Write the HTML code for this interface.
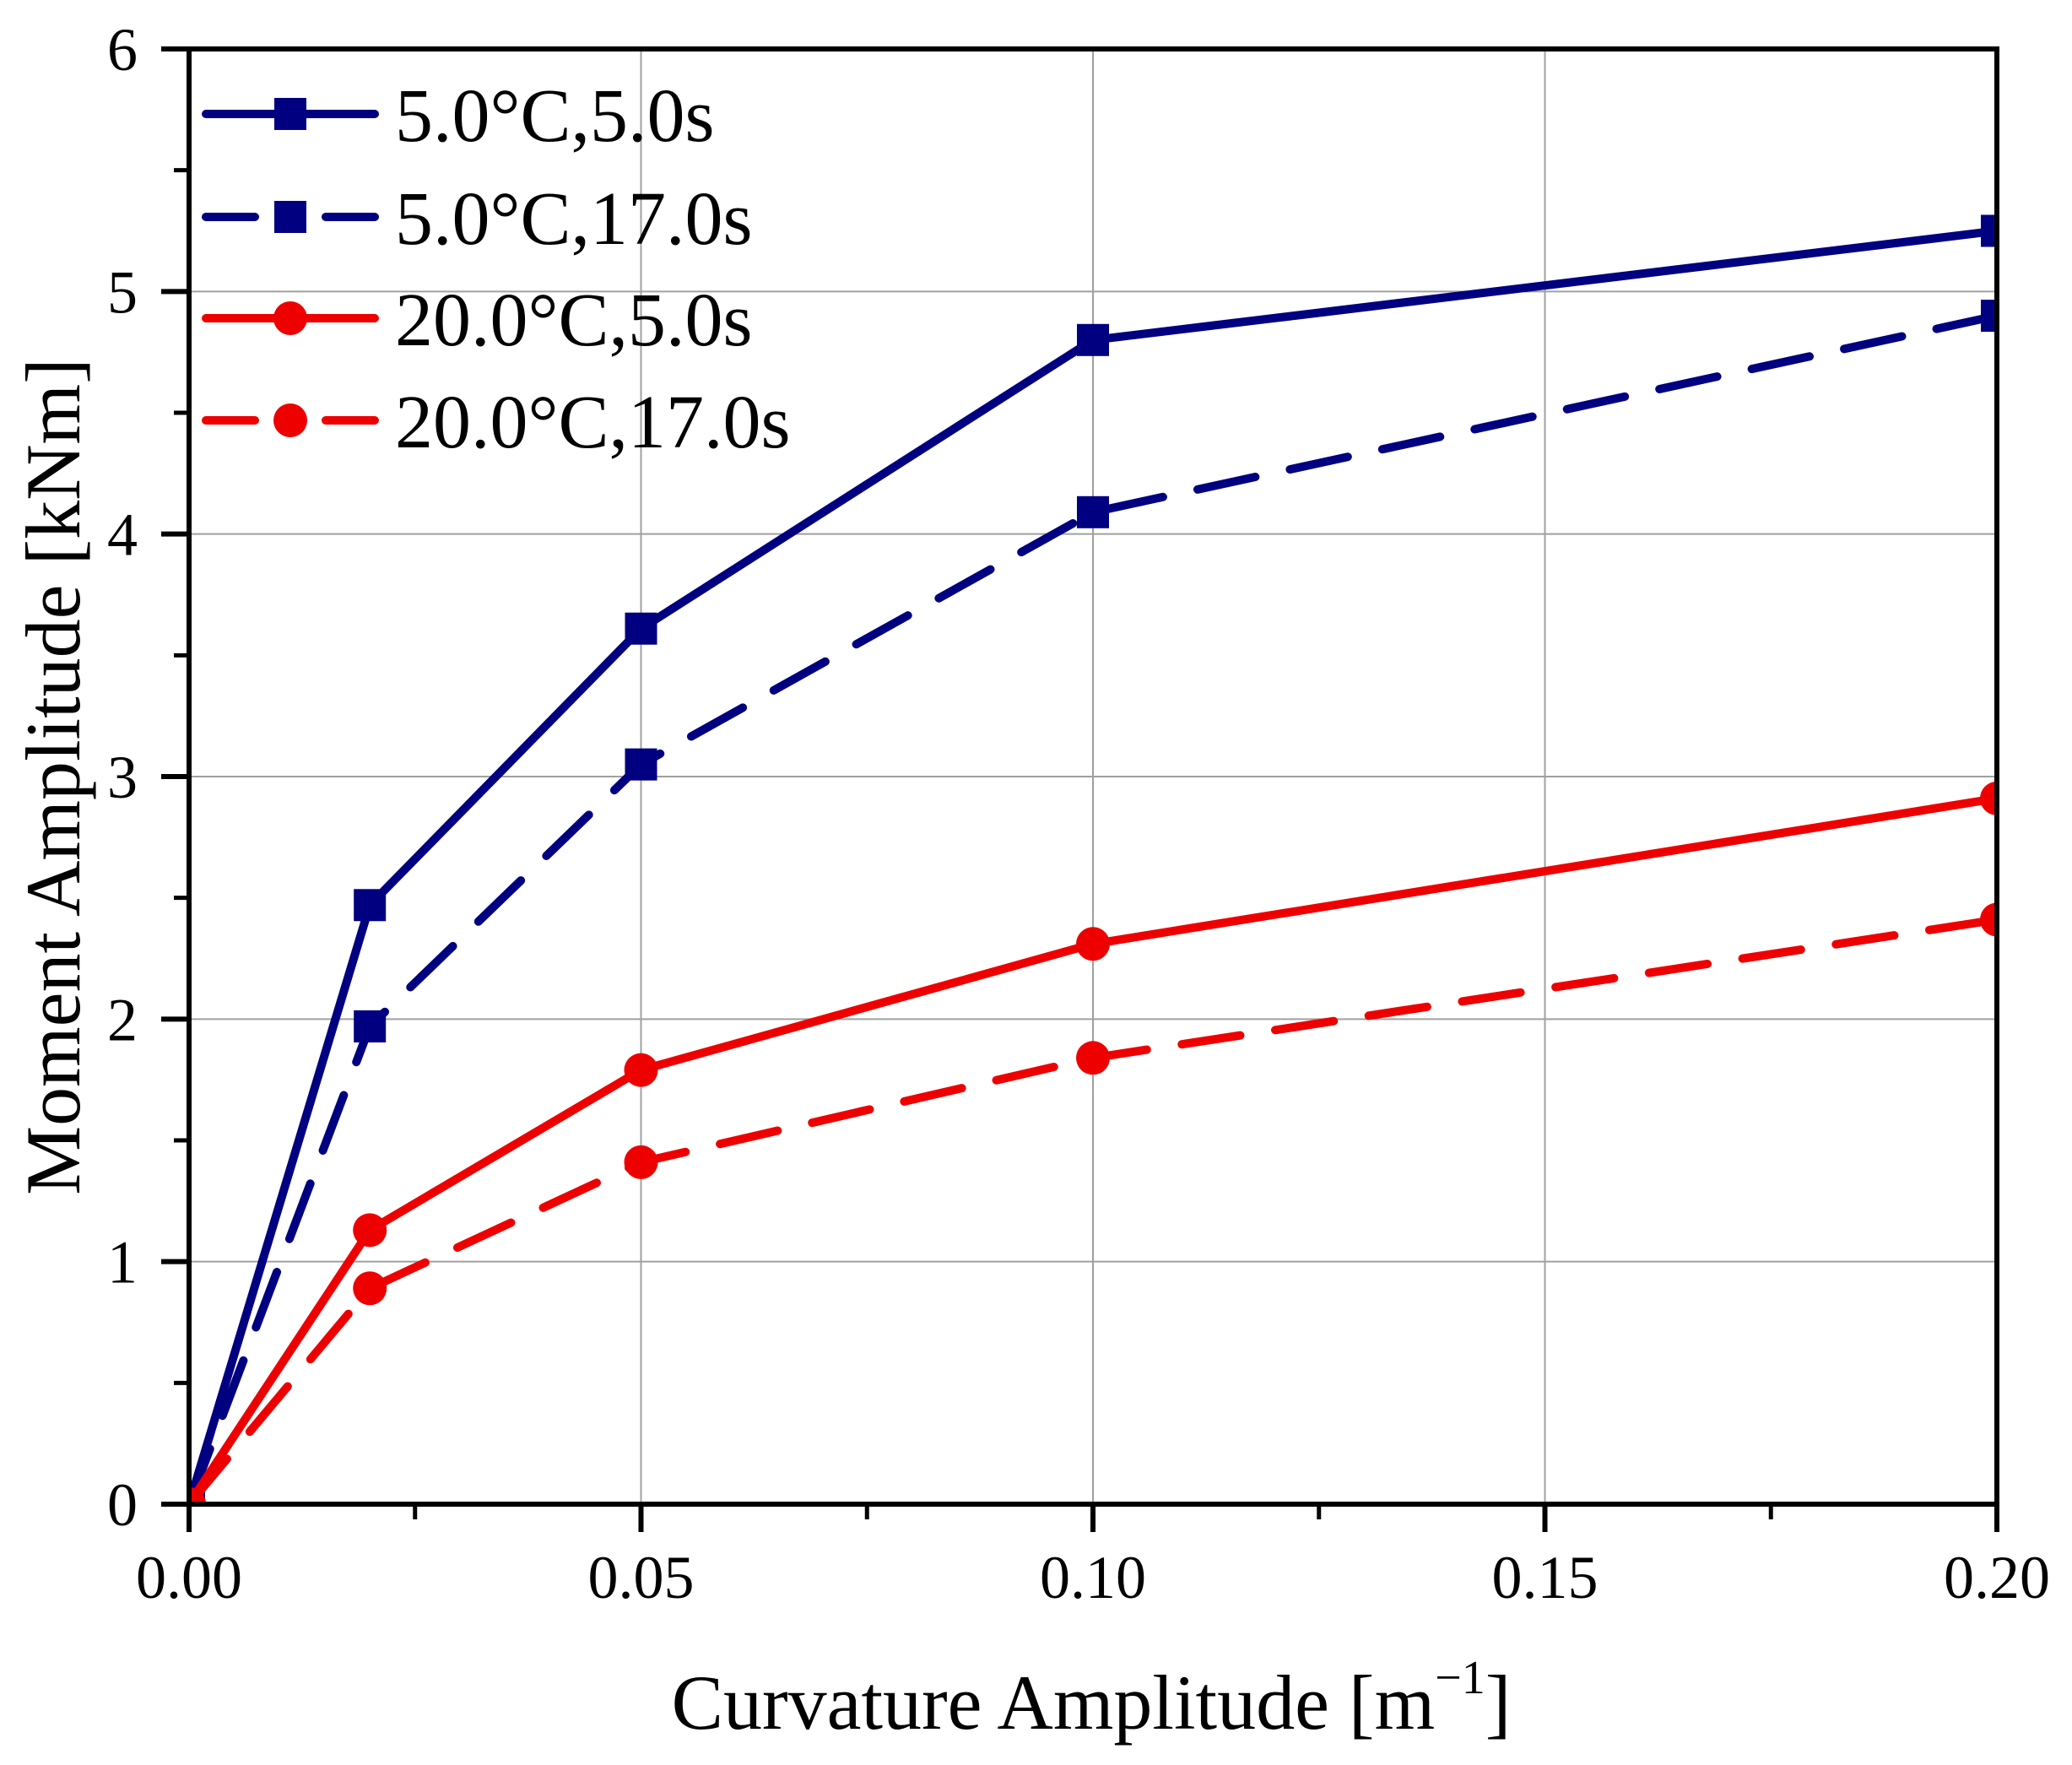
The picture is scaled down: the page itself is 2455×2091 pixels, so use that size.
<!DOCTYPE html>
<html><head><meta charset="utf-8"><style>
html,body{margin:0;padding:0;background:#fff;}
svg{display:block;font-family:"Liberation Serif",serif;}
</style></head><body>
<svg id="chart" width="2455" height="2091" viewBox="0 0 2455 2091" xmlns="http://www.w3.org/2000/svg">
<defs><clipPath id="plotclip"><rect x="224" y="58" width="2142" height="1724"/></clipPath></defs>
<g id="grid"></g>
<g id="series" clip-path="url(#plotclip)"></g>
<g id="axes"></g>
<text x="1293" y="2048" font-size="92" text-anchor="middle">Curvature Amplitude [m<tspan font-size="56" dy="-42">−1</tspan><tspan dy="42">]</tspan></text>
<text transform="translate(94,920) rotate(-90)" font-size="92" text-anchor="middle">Moment Amplitude [kNm]</text>
<g id="legend"></g>
</svg>
<script>
const xValues = [0, 0.02, 0.05, 0.10, 0.20];
const blueSolid = [0, 2.47, 3.61, 4.80, 5.25];
const blueDashed = [0, 1.97, 3.05, 4.09, 4.90];
const redSolid = [0, 1.13, 1.79, 2.31, 2.91];
const redDashed = [0, 0.89, 1.41, 1.84, 2.41];
const seriesNames = ["5.0°C,5.0s", "5.0°C,17.0s", "20.0°C,5.0s", "20.0°C,17.0s"];
const xTicks = [0, 0.05, 0.10, 0.15, 0.20];
const xTickLabels = ["0.00", "0.05", "0.10", "0.15", "0.20"];
const yTicks = [0, 1, 2, 3, 4, 5, 6];
const yTickLabels = ["0", "1", "2", "3", "4", "5", "6"];

const L = 224, R = 2366, T = 58, B = 1782;
const xMax = 0.20, yMax = 6;
const sx = v => L + (v / xMax) * (R - L);
const sy = v => B - (v / yMax) * (B - T);
const NS = "http://www.w3.org/2000/svg";
function mk(tag, attrs, parent) {
  const e = document.createElementNS(NS, tag);
  for (const k in attrs) e.setAttribute(k, attrs[k]);
  parent.appendChild(e);
  return e;
}
const grid = document.getElementById('grid');
const axes = document.getElementById('axes');
const seriesG = document.getElementById('series');
const legend = document.getElementById('legend');

xTicks.forEach((t, i) => {
  if (t > 0 && t < xMax) {
    const g = mk('line', {x1: sx(t), x2: sx(t), y1: T, y2: B, stroke: '#a0a0a0', 'stroke-width': 2}, grid);
    
    
  }
  const tk = mk('line', {x1: sx(t), x2: sx(t), y1: B, y2: B + 33, stroke: '#000', 'stroke-width': 6}, axes);
  
  
  const lb = mk('text', {x: sx(t), y: 1893, 'font-size': 72, 'text-anchor': 'middle'}, axes);
  lb.textContent = xTickLabels[i];
  
  
  if (i < xTicks.length - 1) {
    const mv = (t + xTicks[i + 1]) / 2;
    const m = mk('line', {x1: sx(mv), x2: sx(mv), y1: B, y2: B + 18, stroke: '#000', 'stroke-width': 5}, axes);
    
    
  }
});
yTicks.forEach((t, i) => {
  if (t > 0 && t < yMax) {
    const g = mk('line', {x1: L, x2: R, y1: sy(t), y2: sy(t), stroke: '#a0a0a0', 'stroke-width': 2}, grid);
    
    
  }
  const tk = mk('line', {x1: L - 33, x2: L, y1: sy(t), y2: sy(t), stroke: '#000', 'stroke-width': 6}, axes);
  
  
  const lb = mk('text', {x: 163, y: sy(t) + 25, 'font-size': 72, 'text-anchor': 'end'}, axes);
  lb.textContent = yTickLabels[i];
  
  
  if (i < yTicks.length - 1) {
    const mv = (t + yTicks[i + 1]) / 2;
    const m = mk('line', {x1: L - 18, x2: L, y1: sy(mv), y2: sy(mv), stroke: '#000', 'stroke-width': 5}, axes);
    
    
  }
});
const frame = mk('rect', {x: L, y: T, width: R - L, height: B - T, fill: 'none', stroke: '#000', 'stroke-width': 6}, axes);



const defs = [
  {vals: blueSolid, color: '#000080', dash: null, marker: 'square'},
  {vals: blueDashed, color: '#000080', dash: '70 42', marker: 'square'},
  {vals: redSolid, color: '#ee0000', dash: null, marker: 'circle'},
  {vals: redDashed, color: '#ee0000', dash: '70 42', marker: 'circle'}
];
function marker(type, cx, cy, color, parent) {
  let e;
  if (type === 'square') e = mk('rect', {x: cx - 19, y: cy - 19, width: 38, height: 38, fill: color}, parent);
  else e = mk('circle', {cx: cx, cy: cy, r: 20, fill: color}, parent);
  return e;
}
defs.forEach((d, si) => {
  const pts = d.vals.map((v, i) => sx(xValues[i]) + ',' + sy(v)).join(' ');
  const pl = mk('polyline', {points: pts, fill: 'none', stroke: d.color, 'stroke-width': 10, 'stroke-linecap': 'round', 'stroke-linejoin': 'round'}, seriesG);
  if (d.dash) pl.setAttribute('stroke-dasharray', d.dash);
  
  
  d.vals.forEach((v, i) => {
    const m = marker(d.marker, sx(xValues[i]), sy(v), d.color, seriesG);
    
    
  });
  const ly = [135, 257, 377, 498][si];
  const ll = mk('line', {x1: 244, x2: 444, y1: ly, y2: ly, stroke: d.color, 'stroke-width': 10, 'stroke-linecap': 'round'}, legend);
  if (d.dash) ll.setAttribute('stroke-dasharray', '58 84');
  
  
  const lm = marker(d.marker, 344, ly, d.color, legend);
  
  
  const lt = mk('text', {x: 468, y: ly + 32, 'font-size': 90}, legend);
  lt.textContent = seriesNames[si];
  
  
});
</script>
</body></html>
